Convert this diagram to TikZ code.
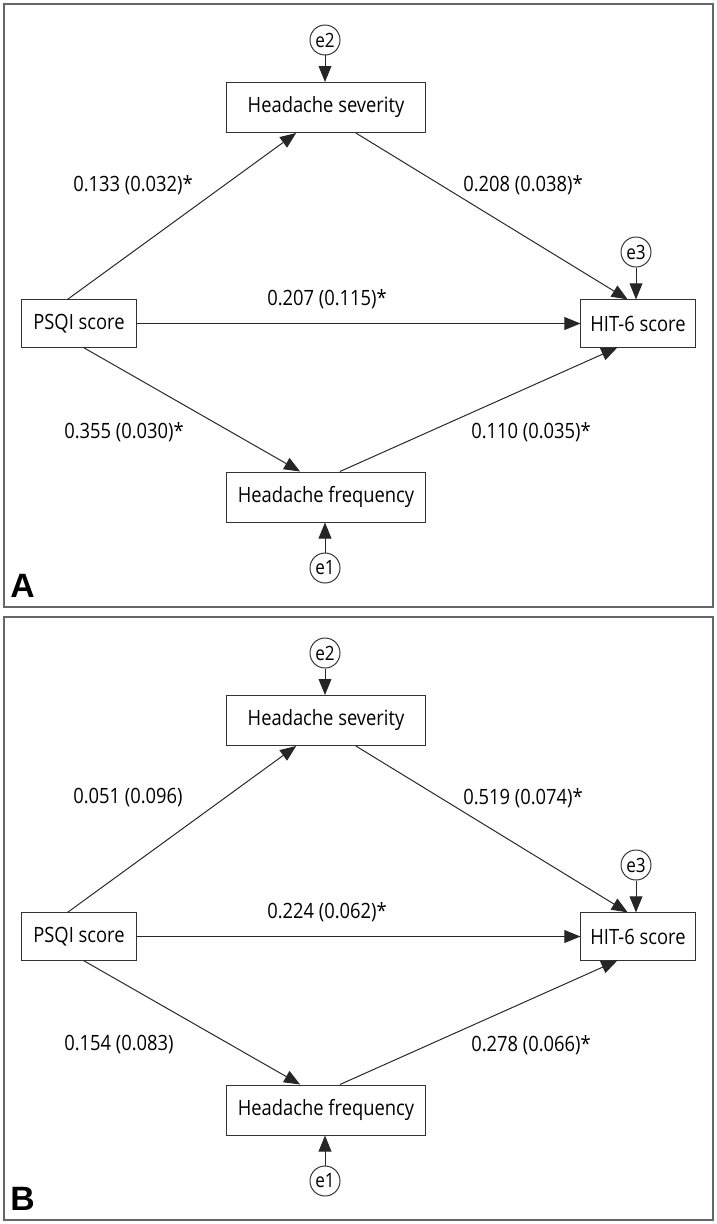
\documentclass[tikz,border=0pt]{standalone}
\usepackage{fontspec}
\setmainfont[FakeStretch=0.87]{Open Sans}
\newfontfamily\panelfont{Liberation Sans}
\usetikzlibrary{arrows.meta,calc}

\tikzset{
    var/.style={draw=black!80, line width=0.7pt, minimum width=4.95cm,
        minimum height=1.25cm, font=\fontsize{15}{18}\selectfont},
    obs/.style={var, minimum width=2.85cm, minimum height=1.18cm},
    err/.style={circle, draw=black!80, line width=0.7pt, minimum size=0.75cm,
        inner sep=0pt, font=\fontsize{14}{16}\selectfont},
    coef/.style={anchor=west, inner sep=0pt, font=\fontsize{15}{18}\selectfont},
    link/.style={-{Triangle[length=0.4cm, width=0.32cm]}, line width=0.7pt,
        draw=black!85},
    frame/.style={draw=black!60, line width=1pt},
    tag/.style={anchor=base west, inner sep=0pt,
        font=\panelfont\fontsize{24}{28}\selectfont\bfseries},
}

\begin{document}
\begin{tikzpicture}[x=0.025cm, y=-0.025cm]
    \useasboundingbox (0, 0) rectangle (717, 1224);

    % panel A
    \draw[frame] (4, 4) rectangle (713, 607);
    \node[err] (e2A) at (325, 40) {e2};
    \node[var] (sevA) at (326, 107.5) {Headache severity};
    \node[obs] (psqiA) at (79, 323.5) {PSQI score};
    \node[obs] (hitA) at (638, 323.5) {HIT-6 score};
    \node[err] (e3A) at (636, 252) {e3};
    \node[var] (freqA) at (326, 497) {Headache frequency};
    \node[err] (e1A) at (325, 568) {e1};
    \node[tag] (tagA) at (10, 597) {A};

    \node[coef] (c1A) at (73, 185) {0.133 (0.032)*};
    \node[coef] (c2A) at (463, 185) {0.208 (0.038)*};
    \node[coef] (c3A) at (267, 299) {0.207 (0.115)*};
    \node[coef] (c4A) at (64, 432) {0.355 (0.030)*};
    \node[coef] (c5A) at (471, 432) {0.110 (0.035)*};

    \draw[link] (e2A) -- (e2A |- sevA.north);
    \draw[link] (e3A) -- (e3A |- hitA.north);
    \draw[link] (e1A) -- (e1A |- freqA.south);
    \draw[link] ($(psqiA.north west)!0.4!(psqiA.north east)$)
        -- ($(sevA.south west)!0.35!(sevA.south east)$);
    \draw[link] ($(sevA.south west)!0.65!(sevA.south east)$)
        -- ($(hitA.north west)!0.41!(hitA.north east)$);
    \draw[link] (psqiA) -- (hitA);
    \draw[link] ($(psqiA.south west)!0.54!(psqiA.south east)$)
        -- ($(freqA.north west)!0.37!(freqA.north east)$);
    \draw[link] ($(freqA.north west)!0.57!(freqA.north east)$)
        -- ($(hitA.south west)!0.32!(hitA.south east)$);

    % panel B
    \begin{scope}[shift={(0, 613)}]
    \draw[frame] (4, 4) rectangle (713, 607);
    \node[err] (e2B) at (325, 40) {e2};
    \node[var] (sevB) at (326, 107.5) {Headache severity};
    \node[obs] (psqiB) at (79, 323.5) {PSQI score};
    \node[obs] (hitB) at (638, 323.5) {HIT-6 score};
    \node[err] (e3B) at (636, 252) {e3};
    \node[var] (freqB) at (326, 497) {Headache frequency};
    \node[err] (e1B) at (325, 568) {e1};
    \node[tag] (tagB) at (10, 597) {B};

    \node[coef] (c1B) at (73, 185) {0.051 (0.096)};
    \node[coef] (c2B) at (463, 185) {0.519 (0.074)*};
    \node[coef] (c3B) at (267, 299) {0.224 (0.062)*};
    \node[coef] (c4B) at (64, 432) {0.154 (0.083)};
    \node[coef] (c5B) at (471, 432) {0.278 (0.066)*};

    \draw[link] (e2B) -- (e2B |- sevB.north);
    \draw[link] (e3B) -- (e3B |- hitB.north);
    \draw[link] (e1B) -- (e1B |- freqB.south);
    \draw[link] ($(psqiB.north west)!0.4!(psqiB.north east)$)
        -- ($(sevB.south west)!0.35!(sevB.south east)$);
    \draw[link] ($(sevB.south west)!0.65!(sevB.south east)$)
        -- ($(hitB.north west)!0.41!(hitB.north east)$);
    \draw[link] (psqiB) -- (hitB);
    \draw[link] ($(psqiB.south west)!0.54!(psqiB.south east)$)
        -- ($(freqB.north west)!0.37!(freqB.north east)$);
    \draw[link] ($(freqB.north west)!0.57!(freqB.north east)$)
        -- ($(hitB.south west)!0.32!(hitB.south east)$);
    \end{scope}
\end{tikzpicture}
\end{document}
